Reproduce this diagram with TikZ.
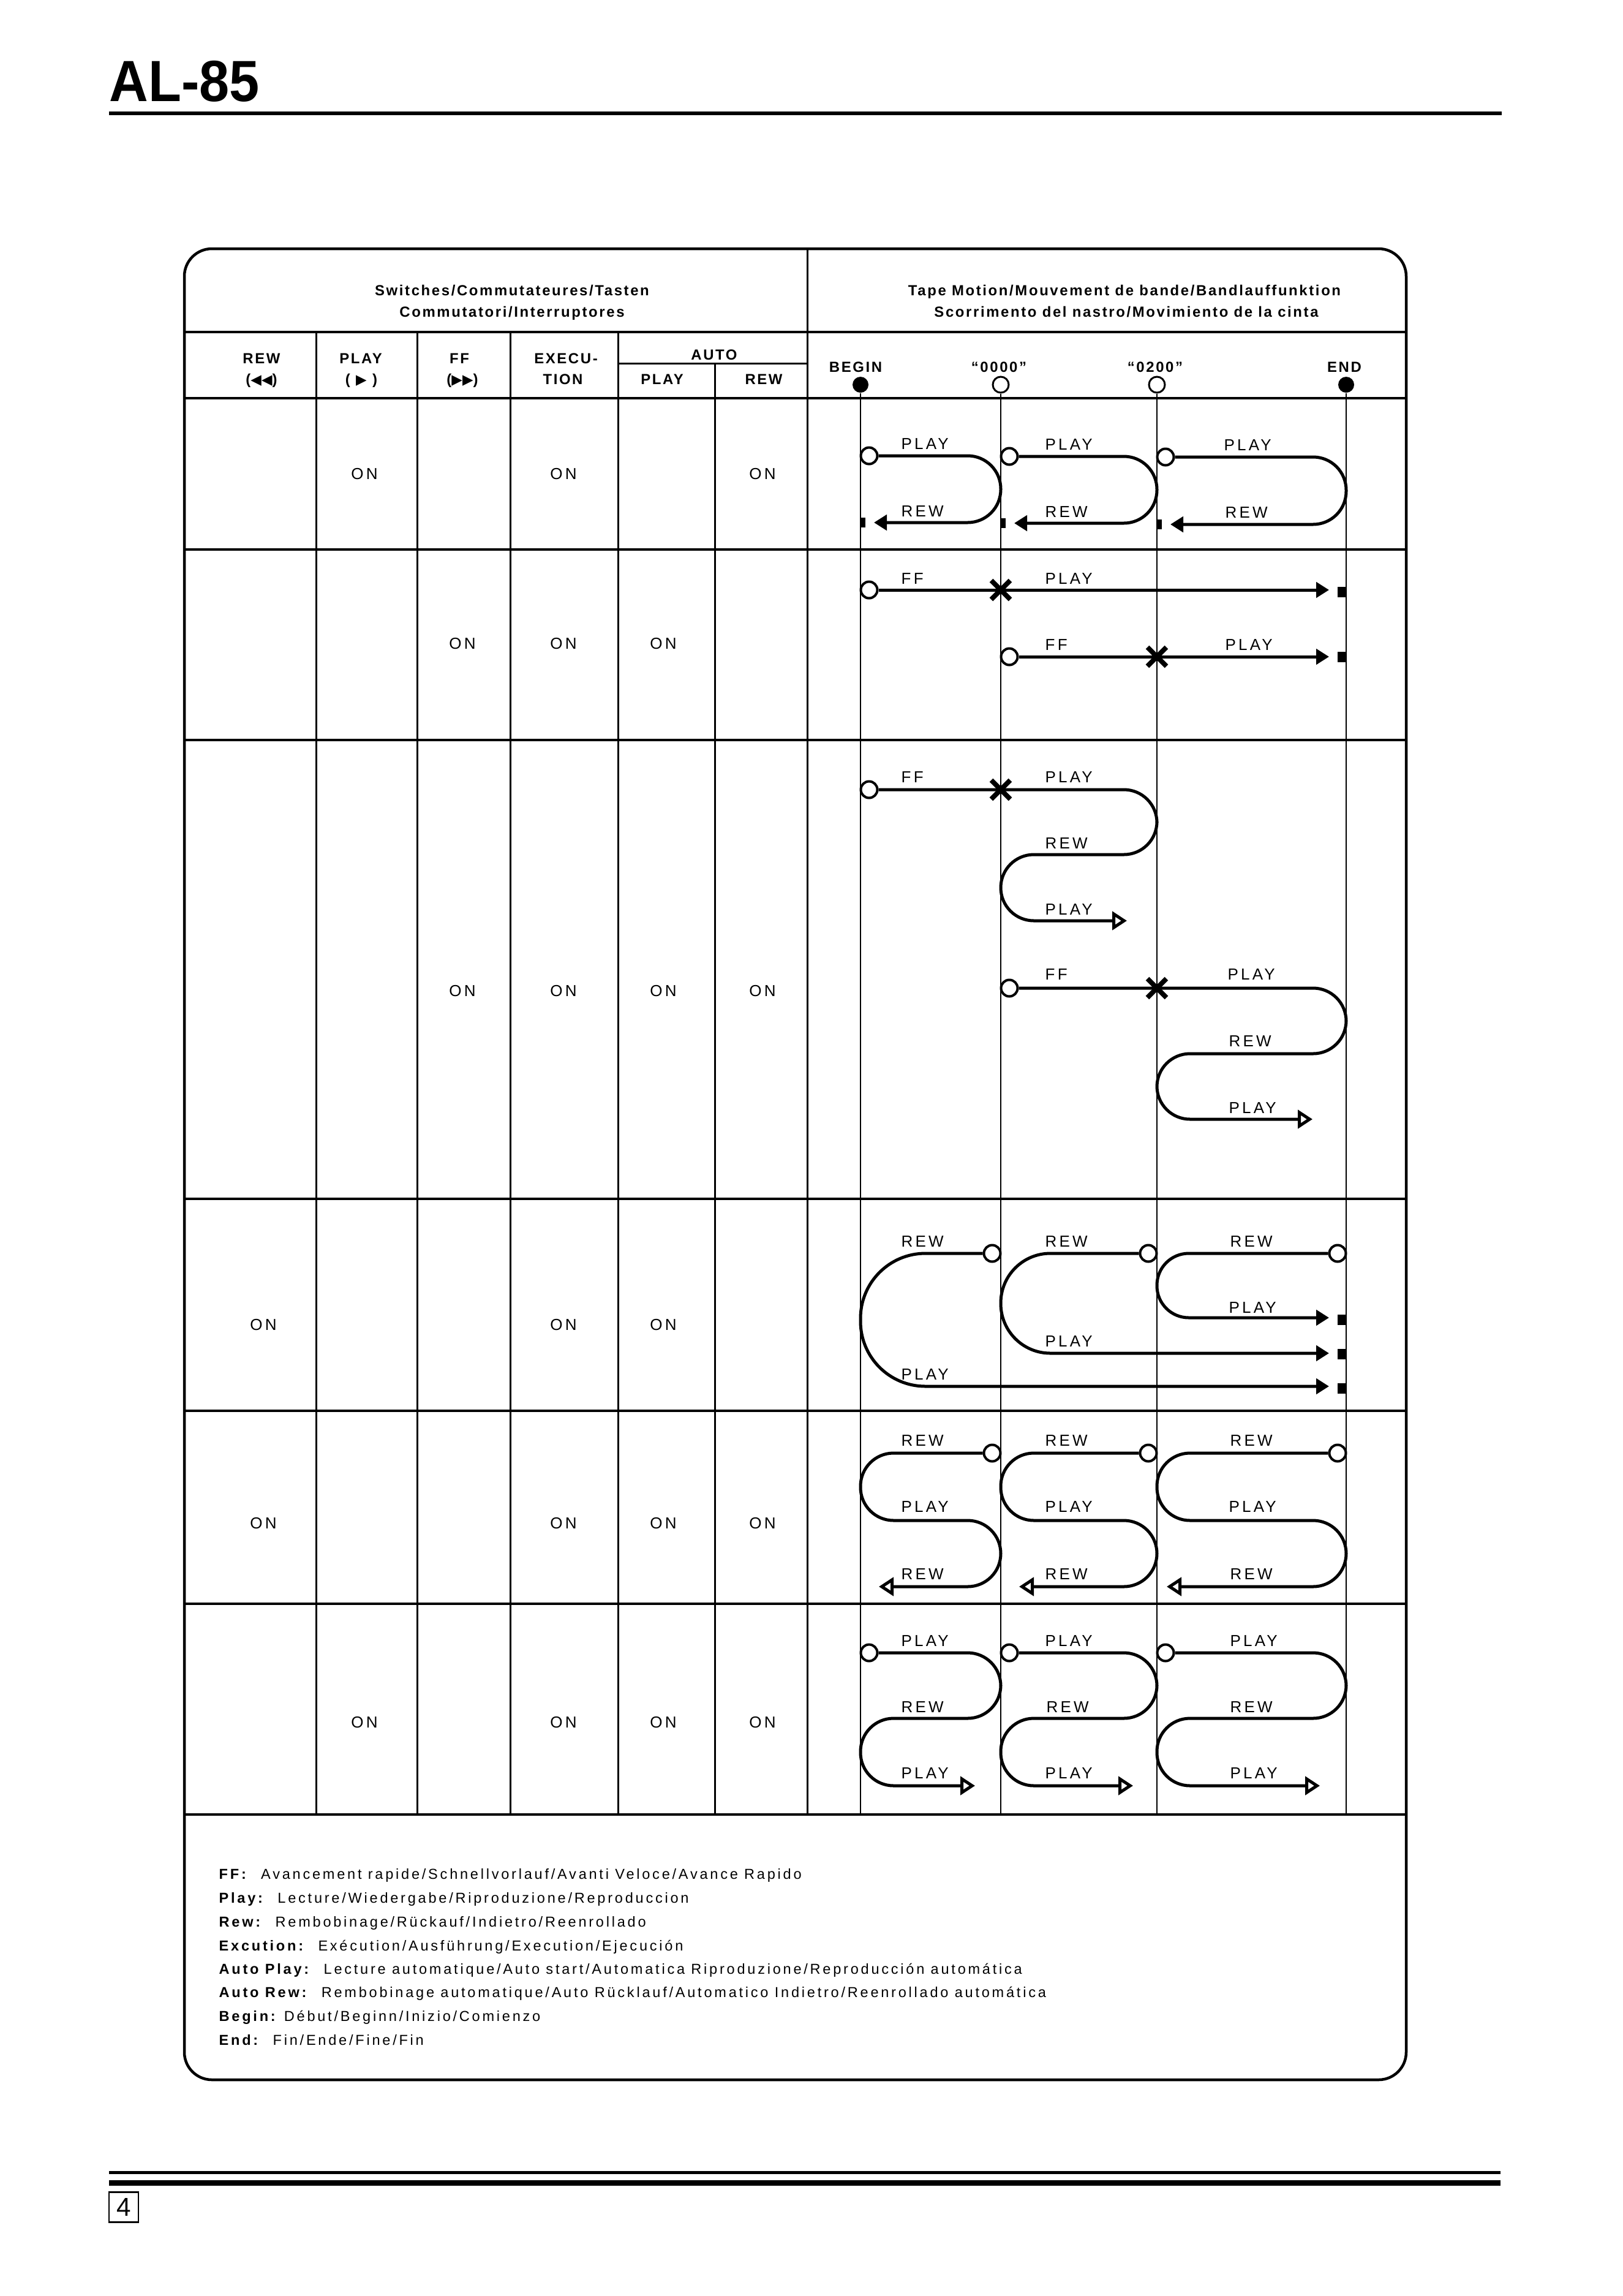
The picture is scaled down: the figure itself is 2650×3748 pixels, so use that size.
\documentclass[tikz,border=0pt]{standalone}
\usepackage{fontspec}
\setmainfont{Liberation Sans}[LetterSpace=16]
\newfontfamily\titlefont{Liberation Sans}[FakeStretch=0.93]
\newfontfamily\headfont{Liberation Sans}[LetterSpace=11]
\newfontfamily\symfont{DejaVu Sans}
\usetikzlibrary{arrows.meta, shapes.misc}

\tikzset{
  boxline/.style={line width=0.45mm},
  rowline/.style={line width=0.4mm},
  colline/.style={line width=0.3mm},
  tapeline/.style={line width=0.2mm},
  tapepath/.style={line width=0.5mm, rounded corners=5.4mm},
  fwd/.style={-{Triangle[length=2.1mm,width=2.5mm]}},
  openfwd/.style={-{Triangle[open,length=2.4mm,width=3mm]}},
  startpt/.style={circle, draw, fill=white, line width=0.4mm, minimum size=2.7mm, inner sep=0pt},
  endblock/.style={fill=black, minimum width=1.2mm, minimum height=1.6mm, inner sep=0pt},
  stopx/.style={cross out, draw, line width=0.8mm, minimum size=2.3mm, inner sep=0pt},
  tlbl/.style={anchor=base west, inner sep=0pt, font=\fontsize{7.4}{8}\selectfont},
  onlbl/.style={inner sep=0pt, font=\fontsize{7.4}{8}\selectfont},
  colhead/.style={anchor=base, inner sep=0pt, font=\headfont\bfseries\fontsize{6.8}{8}\selectfont},
  legendtxt/.style={anchor=base west, inner sep=0pt, font=\fontsize{6.7}{7}\selectfont},
}

\begin{document}
\begin{tikzpicture}[x=0.1mm, y=-0.1mm]
  \useasboundingbox (0,0) rectangle (2650,3748);

  % page head
  \node[anchor=base west, inner sep=0pt, font=\titlefont\bfseries\fontsize{27}{30}\selectfont] (model) at (178,165) {AL-85};
  \draw[line width=0.6mm] (178,185) -- (2452,185);

  % frame and table rules
  \draw[boxline, rounded corners=4.5mm] (301,406) rectangle (2296,3395);
  \draw[boxline] (301,542) -- (2296,542);
  \draw[rowline] (301,650) -- (2296,650);
  \draw[rowline] (301,897) -- (2296,897);
  \draw[rowline] (301,1208) -- (2296,1208);
  \draw[rowline] (301,1957) -- (2296,1957);
  \draw[rowline] (301,2303) -- (2296,2303);
  \draw[rowline] (301,2618) -- (2296,2618);
  \draw[rowline] (301,2962) -- (2296,2962);
  \draw[colline] (1318,406) -- (1318,2962);
  \draw[colline] (516,542) -- (516,2962);
  \draw[colline] (681,542) -- (681,2962);
  \draw[colline] (833,542) -- (833,2962);
  \draw[colline] (1009,542) -- (1009,2962);
  \draw[colline] (1009,593) -- (1318,593);
  \draw[colline] (1167,593) -- (1167,2962);

  % headings
  \node[colhead] (sw1) at (836,482) {Switches/Commutateures/Tasten};
  \node[colhead] (sw2) at (836,517) {Commutatori/Interruptores};
  \node[colhead] (tm1) at (1836,482) {Tape Motion/Mouvement de bande/Bandlauffunktion};
  \node[colhead] (tm2) at (1839,517) {Scorrimento del nastro/Movimiento de la cinta};

  \node[colhead] (hrew) at (427,593) {REW};
  \node[colhead] (hrews) at (427,627) {({\symfont\fontsize{6.5}{7}\selectfont◀◀})};
  \node[colhead] (hplay) at (589,593) {PLAY};
  \node[colhead] (hplays) at (590,627) {( {\symfont\fontsize{6.5}{7}\selectfont▶} )};
  \node[colhead] (hff) at (750,593) {FF};
  \node[colhead] (hffs) at (755,627) {({\symfont\fontsize{6.5}{7}\selectfont▶▶})};
  \node[colhead] (hexe) at (924,593) {EXECU-};
  \node[colhead] (hexe2) at (919,627) {TION};
  \node[colhead] (hauto) at (1166,587) {AUTO};
  \node[colhead] (haplay) at (1081,627) {PLAY};
  \node[colhead] (harew) at (1247,627) {REW};

  % tape positions
  \node[colhead] (tbegin) at (1397,607) {BEGIN};
  \node[colhead] (tzero) at (1631,607) {“0000”};
  \node[colhead] (ttwo) at (1886,607) {“0200”};
  \node[colhead] (tend) at (2195,607) {END};
  \node[circle, fill=black, minimum size=2.6mm, inner sep=0pt] (posb) at (1405,628) {};
  \node[circle, draw, line width=0.3mm, minimum size=2.6mm, inner sep=0pt] (posz) at (1634,628) {};
  \node[circle, draw, line width=0.3mm, minimum size=2.6mm, inner sep=0pt] (post) at (1889,628) {};
  \node[circle, fill=black, minimum size=2.6mm, inner sep=0pt] (pose) at (2198,628) {};
  \draw[tapeline] (posb.south) -- (1405,2962);
  \draw[tapeline] (posz.south) -- (1634,2962);
  \draw[tapeline] (post.south) -- (1889,2962);
  \draw[tapeline] (pose.south) -- (2198,2962);

  % switch settings
  \node[onlbl] (on1a) at (595,774) {ON};
  \node[onlbl] (on1b) at (920,774) {ON};
  \node[onlbl] (on1c) at (1245,774) {ON};
  \node[onlbl] (on2a) at (755,1051) {ON};
  \node[onlbl] (on2b) at (920,1051) {ON};
  \node[onlbl] (on2c) at (1083,1051) {ON};
  \node[onlbl] (on3a) at (755,1618) {ON};
  \node[onlbl] (on3b) at (920,1618) {ON};
  \node[onlbl] (on3c) at (1083,1618) {ON};
  \node[onlbl] (on3d) at (1245,1618) {ON};
  \node[onlbl] (on4a) at (430,2163) {ON};
  \node[onlbl] (on4b) at (920,2163) {ON};
  \node[onlbl] (on4c) at (1083,2163) {ON};
  \node[onlbl] (on5a) at (430,2487) {ON};
  \node[onlbl] (on5b) at (920,2487) {ON};
  \node[onlbl] (on5c) at (1083,2487) {ON};
  \node[onlbl] (on5d) at (1245,2487) {ON};
  \node[onlbl] (on6a) at (595,2812) {ON};
  \node[onlbl] (on6b) at (920,2812) {ON};
  \node[onlbl] (on6c) at (1083,2812) {ON};
  \node[onlbl] (on6d) at (1245,2812) {ON};

  % row 1: play then auto rewind
  \node[startpt] (p1a) at (1419,744) {};
  \node[startpt] (p1b) at (1648,745) {};
  \node[startpt] (p1c) at (1903,746) {};
  \node[endblock, minimum width=0.9mm] (e1a) at (1408,853) {};
  \node[endblock, minimum width=0.9mm] (e1b) at (1637,854) {};
  \node[endblock, minimum width=0.9mm] (e1c) at (1892,856) {};
  \draw[tapepath, fwd] (p1a.east) -- (1634,744) -- (1634,853) -- (1427,853);
  \draw[tapepath, fwd] (p1b.east) -- (1889,745) -- (1889,854) -- (1656,854);
  \draw[tapepath, fwd] (p1c.east) -- (2198,746) -- (2198,856) -- (1911,856);
  \node[tlbl] (l1a) at (1471,733) {PLAY};
  \node[tlbl] (l1b) at (1471,843) {REW};
  \node[tlbl] (l1c) at (1706,734) {PLAY};
  \node[tlbl] (l1d) at (1706,844) {REW};
  \node[tlbl] (l1e) at (1998,735) {PLAY};
  \node[tlbl] (l1f) at (2000,845) {REW};

  % row 2: ff, then play to the end
  \node[startpt] (p2a) at (1419,963) {};
  \node[startpt] (p2b) at (1648,1072) {};
  \node[endblock, minimum width=1.4mm, minimum height=1.7mm] (e2a) at (2191,966) {};
  \node[endblock, minimum width=1.4mm, minimum height=1.7mm] (e2b) at (2191,1072) {};
  \draw[tapepath, fwd] (p2a.east) -- (2170,963);
  \draw[tapepath, fwd] (p2b.east) -- (2170,1072);
  \node[stopx] (x2a) at (1634,963) {};
  \node[stopx] (x2b) at (1889,1072) {};
  \node[tlbl] (l2a) at (1471,953) {FF};
  \node[tlbl] (l2b) at (1706,953) {PLAY};
  \node[tlbl] (l2c) at (1706,1061) {FF};
  \node[tlbl] (l2d) at (2000,1061) {PLAY};

  % row 3: ff, play, rew, play
  \node[startpt] (p3a) at (1419,1289) {};
  \node[startpt] (p3b) at (1648,1613) {};
  \draw[tapepath, openfwd] (p3a.east) -- (1889,1289) -- (1889,1395) -- (1634,1395) -- (1634,1503) -- (1840,1503);
  \draw[tapepath, openfwd] (p3b.east) -- (2198,1613) -- (2198,1720) -- (1889,1720) -- (1889,1827) -- (2143,1827);
  \node[stopx] (x3a) at (1634,1289) {};
  \node[stopx] (x3b) at (1889,1613) {};
  \node[tlbl] (l3a) at (1471,1277) {FF};
  \node[tlbl] (l3b) at (1706,1277) {PLAY};
  \node[tlbl] (l3c) at (1706,1385) {REW};
  \node[tlbl] (l3d) at (1706,1493) {PLAY};
  \node[tlbl] (l3e) at (1706,1599) {FF};
  \node[tlbl] (l3f) at (2004,1599) {PLAY};
  \node[tlbl] (l3g) at (2006,1708) {REW};
  \node[tlbl] (l3h) at (2006,1817) {PLAY};

  % row 4: rew, then play to the end
  \node[startpt] (p4a) at (1620,2046) {};
  \node[startpt] (p4b) at (1875,2046) {};
  \node[startpt] (p4c) at (2184,2046) {};
  \node[endblock, minimum width=1.4mm, minimum height=1.7mm] (e4a) at (2191,2266) {};
  \node[endblock, minimum width=1.4mm, minimum height=1.7mm] (e4b) at (2191,2210) {};
  \node[endblock, minimum width=1.4mm, minimum height=1.7mm] (e4c) at (2191,2154) {};
  \draw[tapepath, fwd, rounded corners=10.6mm] (p4a.west) -- (1405,2046) -- (1405,2263) -- (2170,2263);
  \draw[tapepath, fwd, rounded corners=8.1mm] (p4b.west) -- (1634,2046) -- (1634,2209) -- (2170,2209);
  \draw[tapepath, fwd, rounded corners=5.2mm] (p4c.west) -- (1889,2046) -- (1889,2151) -- (2170,2151);
  \node[tlbl] (l4a) at (1471,2035) {REW};
  \node[tlbl] (l4b) at (1471,2252) {PLAY};
  \node[tlbl] (l4c) at (1706,2035) {REW};
  \node[tlbl] (l4d) at (1706,2198) {PLAY};
  \node[tlbl] (l4e) at (2008,2035) {REW};
  \node[tlbl] (l4f) at (2006,2143) {PLAY};

  % row 5: rew, play, rew
  \node[startpt] (p5a) at (1620,2372) {};
  \node[startpt] (p5b) at (1875,2372) {};
  \node[startpt] (p5c) at (2184,2372) {};
  \draw[tapepath, openfwd] (p5a.west) -- (1405,2372) -- (1405,2482) -- (1634,2482) -- (1634,2590) -- (1435,2590);
  \draw[tapepath, openfwd] (p5b.west) -- (1634,2372) -- (1634,2482) -- (1889,2482) -- (1889,2590) -- (1664,2590);
  \draw[tapepath, openfwd] (p5c.west) -- (1889,2372) -- (1889,2482) -- (2198,2482) -- (2198,2590) -- (1905,2590);
  \node[tlbl] (l5a) at (1471,2360) {REW};
  \node[tlbl] (l5b) at (1471,2468) {PLAY};
  \node[tlbl] (l5c) at (1471,2578) {REW};
  \node[tlbl] (l5d) at (1706,2360) {REW};
  \node[tlbl] (l5e) at (1706,2468) {PLAY};
  \node[tlbl] (l5f) at (1706,2578) {REW};
  \node[tlbl] (l5g) at (2008,2360) {REW};
  \node[tlbl] (l5h) at (2006,2468) {PLAY};
  \node[tlbl] (l5i) at (2008,2578) {REW};

  % row 6: play, rew, play
  \node[startpt] (p6a) at (1419,2698) {};
  \node[startpt] (p6b) at (1648,2698) {};
  \node[startpt] (p6c) at (1903,2698) {};
  \draw[tapepath, openfwd] (p6a.east) -- (1634,2698) -- (1634,2805) -- (1405,2805) -- (1405,2915) -- (1592,2915);
  \draw[tapepath, openfwd] (p6b.east) -- (1889,2698) -- (1889,2805) -- (1634,2805) -- (1634,2915) -- (1850,2915);
  \draw[tapepath, openfwd] (p6c.east) -- (2198,2698) -- (2198,2805) -- (1889,2805) -- (1889,2915) -- (2155,2915);
  \node[tlbl] (l6a) at (1471,2687) {PLAY};
  \node[tlbl] (l6b) at (1471,2795) {REW};
  \node[tlbl] (l6c) at (1471,2903) {PLAY};
  \node[tlbl] (l6d) at (1706,2687) {PLAY};
  \node[tlbl] (l6e) at (1708,2795) {REW};
  \node[tlbl] (l6f) at (1706,2903) {PLAY};
  \node[tlbl] (l6g) at (2008,2687) {PLAY};
  \node[tlbl] (l6h) at (2008,2795) {REW};
  \node[tlbl] (l6i) at (2008,2903) {PLAY};

  % key to the terms
  \node[legendtxt] (kff) at (357,3067) {\textbf{FF:}\ \ Avancement rapide/Schnellvorlauf/Avanti Veloce/Avance Rapido};
  \node[legendtxt] (kplay) at (357,3106) {\textbf{Play:}\ \ Lecture/Wiedergabe/Riproduzione/Reproduccion};
  \node[legendtxt] (krew) at (357,3145) {\textbf{Rew:}\ \ Rembobinage/Rückauf/Indietro/Reenrollado};
  \node[legendtxt] (kexe) at (357,3184) {\textbf{Excution:}\ \ Exécution/Ausführung/Execution/Ejecución};
  \node[legendtxt] (kaplay) at (357,3222) {\textbf{Auto Play:}\ \ Lecture automatique/Auto start/Automatica Riproduzione/Reproducción automática};
  \node[legendtxt] (karew) at (357,3260) {\textbf{Auto Rew:}\ \ Rembobinage automatique/Auto Rücklauf/Automatico Indietro/Reenrollado automática};
  \node[legendtxt] (kbegin) at (357,3299) {\textbf{Begin:}\ Début/Beginn/Inizio/Comienzo};
  \node[legendtxt] (kend) at (357,3338) {\textbf{End:}\ \ Fin/Ende/Fine/Fin};

  % page foot
  \draw[line width=0.5mm] (178,3546) -- (2450,3546);
  \draw[line width=0.9mm] (178,3563) -- (2450,3563);
  \node[draw, line width=0.25mm, minimum width=4.8mm, minimum height=4.9mm, inner sep=0pt, font=\fontsize{12}{13}\selectfont] (pagenum) at (202,3603) {4};
\end{tikzpicture}
\end{document}
